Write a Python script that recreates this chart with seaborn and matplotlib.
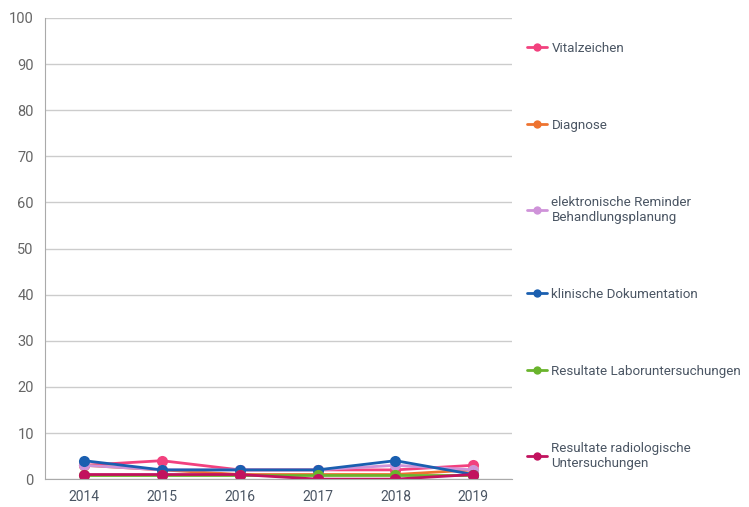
import pandas as pd
import matplotlib.pyplot as plt
import seaborn as sns

years = [2014, 2015, 2016, 2017, 2018, 2019]

series_names = [
    'Vitalzeichen',
    'Diagnose',
    'elektronische Reminder\nBehandlungsplanung',
    'klinische Dokumentation',
    'Resultate Laboruntersuchungen',
    'Resultate radiologische\nUntersuchungen',
]

vitalzeichen = [3, 4, 2, 2, 2, 3]
diagnose = [3, 2, 1, 1, 1, 2]
reminder = [3, 2, 2, 2, 3, 2]
klinische_doku = [4, 2, 2, 2, 4, 1]
labor = [1, 1, 1, 1, 1, 1]
radiologie = [1, 1, 1, 0, 0, 1]

colors = ['#f2417e', '#ee7330', '#cf93d9', '#1a5fb0', '#6ab42d', '#c2125e']

values = [vitalzeichen, diagnose, reminder, klinische_doku, labor, radiologie]
df = pd.DataFrame(
    [(name, y, v) for name, vals in zip(series_names, values) for y, v in zip(years, vals)],
    columns=['Serie', 'Jahr', 'Wert'],
)

sns.set_style('white')
plt.rcParams['font.family'] = ['Roboto', 'DejaVu Sans']

fig = plt.figure(figsize=(7.49, 5.07), dpi=100)
ax = fig.add_axes([0.060, 0.055, 0.624, 0.9095])

sns.lineplot(data=df, x='Jahr', y='Wert', hue='Serie', hue_order=series_names,
             palette=colors, marker='o', markersize=8, markeredgewidth=0,
             linewidth=2, ax=ax)

ax.set_xlim(2013.5, 2019.5)
ax.set_ylim(0, 100)
ax.set_xticks(years)
ax.set_yticks(range(0, 101, 10))
ax.set_xlabel('')
ax.set_ylabel('')
ax.yaxis.grid(True, color='#cccccc', linewidth=1)
ax.set_axisbelow(True)
for side in ['top', 'right']:
    ax.spines[side].set_visible(False)
for side in ['left', 'bottom']:
    ax.spines[side].set_color('#aaaaaa')
ax.tick_params(axis='y', length=5, color='#aaaaaa', labelsize=10.5, labelcolor='#666666', pad=3)
ax.tick_params(axis='x', length=0, labelsize=10, labelcolor='#4a5563', pad=8)

handles, labels = ax.get_legend_handles_labels()
for h in handles:
    h.set_markersize(6)
ax.legend(handles, labels, loc='upper left', bbox_to_anchor=(0.697, 0.928),
          bbox_transform=fig.transFigure, frameon=False, fontsize=9.6,
          labelcolor='#4a5563', handlelength=1.5, handletextpad=0.3,
          labelspacing=4.8, borderaxespad=0)

fig.savefig('out.png', dpi=100)
